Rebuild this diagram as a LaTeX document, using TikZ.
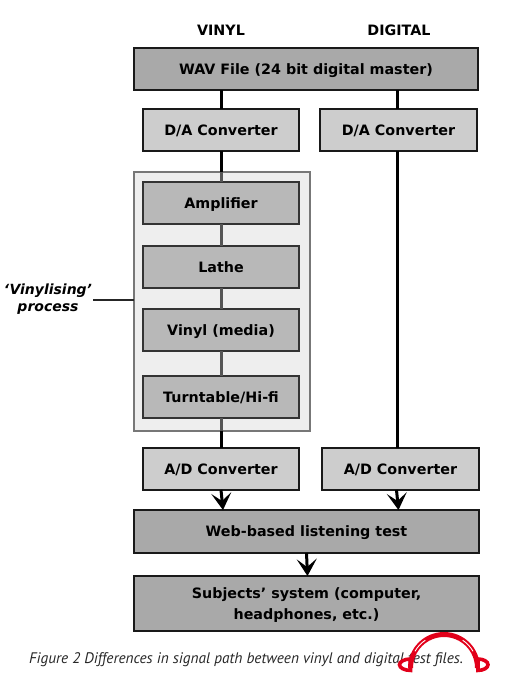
\documentclass[tikz,border=0pt]{standalone}
\usepackage{fontspec}
\setmainfont{DejaVu Sans}
\newfontfamily\captionfont{PT Sans}
\usetikzlibrary{arrows.meta,positioning,backgrounds}
\definecolor{darkfill}{HTML}{A9A9A9}
\definecolor{midfill}{HTML}{B8B8B8}
\definecolor{lightfill}{HTML}{CDCDCD}
\definecolor{panelfill}{HTML}{EEEEEE}
\definecolor{paneledge}{HTML}{777777}
\definecolor{dimline}{HTML}{555555}
\definecolor{redlogo}{HTML}{E2001A}
\tikzset{
  stagebox/.style={draw=black!90, line width=2pt, fill=darkfill, outer sep=0pt, inner sep=0pt, align=center, text depth=0pt, font=\fontsize{14.3}{21}\bfseries},
  convbox/.style={stagebox, fill=lightfill, minimum width=156pt, minimum height=42pt},
  procbox/.style={stagebox, fill=midfill, draw=black!80, minimum width=156pt, minimum height=42pt},
  widebox/.style={stagebox, minimum width=345pt, minimum height=42pt},
  panelbox/.style={draw=paneledge, line width=1.8pt, fill=panelfill, minimum width=176pt, minimum height=259pt, outer sep=0pt},
  link/.style={line width=3pt, draw=black},
  dimlink/.style={line width=3pt, draw=dimline},
  tiplink/.style={link, -{Stealth[length=17pt, width=20pt, inset=8pt]}},
  head/.style={font=\fontsize{14.3}{16}\bfseries},
  leader/.style={line width=1.6pt, draw=black!85}
}
\begin{document}
\begin{tikzpicture}[x=1pt, y=1pt]
  \useasboundingbox (0,0) rectangle (525,-697);

  \node[head] (vinyl) at (221,-30) {VINYL};
  \node[head] (digital) at (399,-30) {DIGITAL};

  \node[widebox, minimum width=344pt] (wav) at (306,-69) {WAV File (24 bit digital master)};
  \node[convbox, below right=19pt and 9pt of wav.south west] (dav) {D/A Converter};
  \node[convbox, minimum width=157pt, below left=19pt and 1pt of wav.south east] (dad) {D/A Converter};

  \node[procbox, below=31pt of dav] (amp) {Amplifier};
  \node[procbox, below=22pt of amp] (lathe) {Lathe};
  \node[procbox, below=21pt of lathe] (media) {Vinyl (media)};
  \node[procbox, below=25pt of media] (turn) {Turntable/Hi-fi};

  \node[convbox, below=30pt of turn] (adv) {A/D Converter};
  \node[convbox, minimum width=157pt, right=23pt of adv] (add) {A/D Converter};

  \node[widebox, minimum height=43pt, below right=20pt and -9pt of adv.south west] (web) {Web-based listening test};
  \node[widebox, minimum height=55pt, below=23pt of web] (subj) {Subjects’ system (computer,\\headphones, etc.)};

  \begin{scope}[on background layer]
    \node[panelbox, below right=21pt and -9pt of dav.south west] (panel) {};
  \end{scope}

  \coordinate (adtip) at ([xshift=2pt]adv.south |- web.north);
  \coordinate (ddtip) at ([xshift=-2pt]add.south |- web.north);
  \coordinate (webtip) at ([xshift=1pt]web.north |- subj.north);

  \draw[link] (wav.south -| dav.north) -- (dav.north);
  \draw[link] ([xshift=-1pt]wav.south -| dad.north) -- ([xshift=-1pt]dad.north);
  \draw[link] (dav.south) -- (dav.south |- panel.north);
  \draw[dimlink] (dav.south |- panel.north) -- (amp.north);
  \draw[dimlink] (amp) -- (lathe);
  \draw[dimlink] (lathe) -- (media);
  \draw[dimlink] (media) -- (turn);
  \draw[dimlink] (turn.south) -- (turn.south |- panel.south);
  \draw[link] (turn.south |- panel.south) -- (adv.north);
  \draw[link] ([xshift=-1pt]dad.south) -- ([xshift=-3pt]add.north);
  \draw[tiplink] (adv.south) -- (adtip);
  \draw[tiplink] ([xshift=-4pt]add.south) -- (ddtip);
  \draw[tiplink] (web.south) -- (webtip);

  \node[align=center, font=\fontsize{14}{17}\bfseries\itshape] (vlabel) at (48,-299) {‘Vinylising’\\process};
  \coordinate (leadstart) at (93,-300);
  \draw[leader] (leadstart) -- (leadstart -| panel.west);

  \node[anchor=base west, inner sep=0pt, font=\captionfont\fontsize{15.3}{17}\itshape, text=black!85] (cap) at (29,-663) {Figure 2 Differences in signal path between vinyl and digital test files.};

  % logo
  \fill[redlogo] (408,-668) arc[start angle=180, end angle=0, x radius=36, y radius=36] -- ++(-5,0) arc[start angle=0, end angle=180, x radius=31, y radius=31] -- cycle;
  \draw[white, line width=.9pt] (444,-668) ++(124:33.5) arc[start angle=124, end angle=150, radius=33.5];
  \draw[white, line width=.9pt] (444,-668) ++(56:33.5) arc[start angle=56, end angle=30, radius=33.5];
  \draw[redlogo, line width=3.6pt] (410.5,-659) arc[start angle=90, end angle=270, x radius=11, y radius=5.7] -- cycle;
  \draw[redlogo, line width=3.6pt] (478,-659) arc[start angle=90, end angle=-90, x radius=10, y radius=5.7] -- cycle;
\end{tikzpicture}
\end{document}
